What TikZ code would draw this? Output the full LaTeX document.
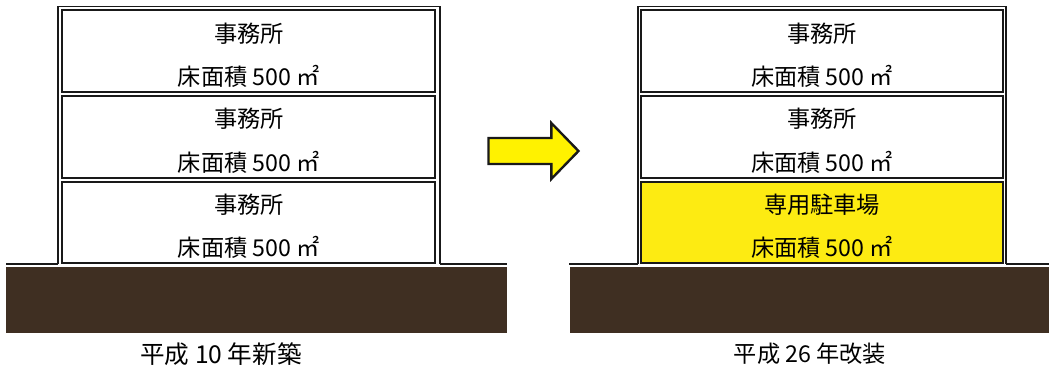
\documentclass[tikz,border=0pt]{standalone}
\usepackage{fontspec}
\setmainfont{Noto Sans CJK JP}
\usepackage{tikz}
\usetikzlibrary{positioning}
\definecolor{soil}{HTML}{3F2F22}
\definecolor{parking}{HTML}{FDEB12}

\begin{document}
\begin{tikzpicture}[x=0.025cm, y=-0.025cm,
  floorbox/.style={draw=black!90, line width=1.4pt, rectangle, inner sep=0pt, minimum height=2.04cm},
  frame/.style={draw=black!90, line width=1.4pt},
  txt/.style={font=\fontsize{16.5}{18}\selectfont, inner sep=0pt}]
\useasboundingbox (0,0) rectangle (1049,371);

% Ground
\fill[soil] (6,266.5) rectangle (507,333);
\fill[soil] (570,266.5) rectangle (1049,333);
\draw[frame] (6,264) -- (58.3,264) (439.7,264) -- (507,264);
\draw[frame] (569,264) -- (637.7,264) (1006.3,264) -- (1049,264);

% Before: three offices
\draw[frame] (58.3,264) |- (439.7,6.5) -- (439.7,264);
\foreach \n/\y in {1/51.2, 2/137, 3/222.5}{
  \node[floorbox, minimum width=9.325cm] (l\n) at (248.8,\y) {};
  \node[txt] (l\n use) at (248.8,\y-18) {事務所};
  \node[txt] (l\n area) at (248.8,\y+25) {床面積 500 ㎡};
}
\node[txt, font=\fontsize{17.5}{18}\selectfont] (before) at (221,354) {平成 10 年新築};

% Arrow
\filldraw[fill=yellow, draw=black!90, line width=1.7pt, line join=miter]
  (488.5,138) -- (551.3,138) -- (551.3,123) -- (578.5,151)
  -- (551.3,179) -- (551.3,164) -- (488.5,164) -- cycle;

% After: ground floor becomes parking
\draw[frame] (637.7,264) |- (1006.3,6.5) -- (1006.3,264);
\foreach \n/\y/\use/\col in {1/51.2/事務所/white, 2/137/事務所/white, 3/222.5/専用駐車場/parking}{
  \node[floorbox, fill=\col, minimum width=9.05cm] (r\n) at (822,\y) {};
  \node[txt] (r\n use) at (822,\y-18) {\use};
  \node[txt] (r\n area) at (822,\y+25) {床面積 500 ㎡};
}
\node[txt] (after) at (810,354) {平成 26 年改装};

\end{tikzpicture}
\end{document}
